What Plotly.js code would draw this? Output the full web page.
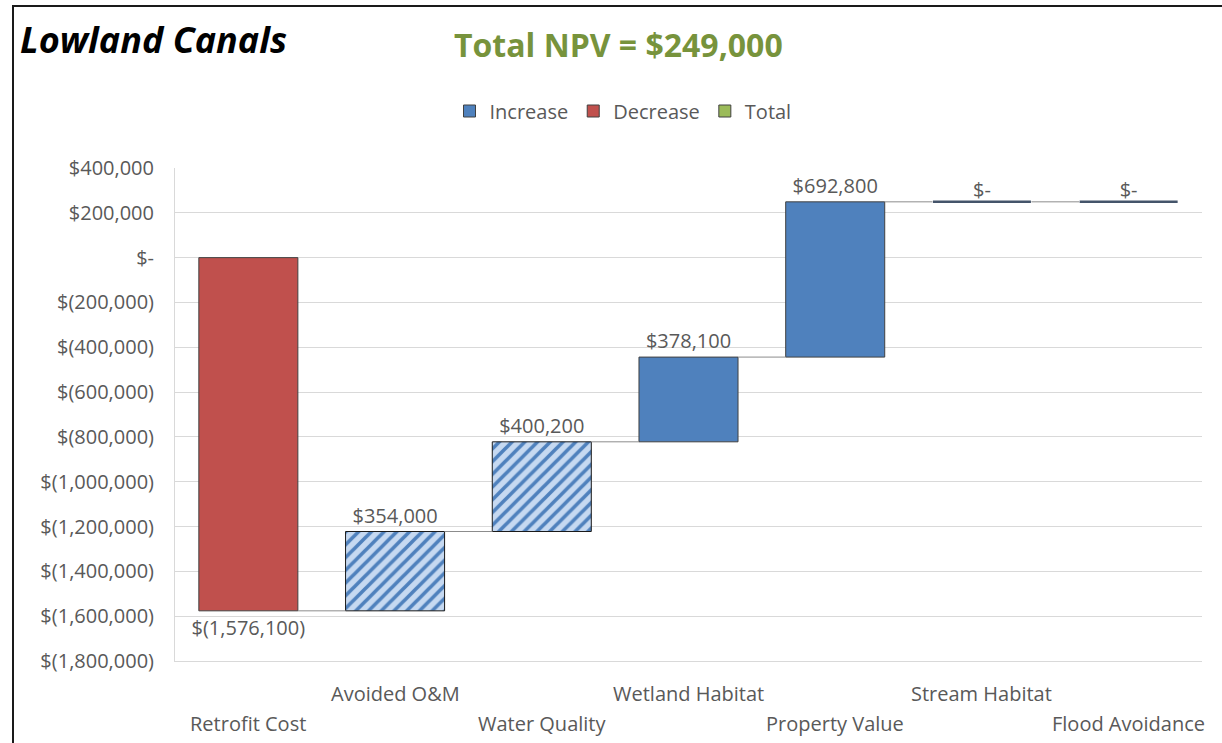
<!DOCTYPE html>
<html>
<head>
<meta charset="utf-8">
<script src="https://cdn.plot.ly/plotly-3.0.1.min.js"></script>
<style>
  html, body { margin: 0; padding: 0; background: #fff; overflow: hidden; }
  #chart { width: 1222px; height: 743px; }
  #frame { position: absolute; left: 12px; top: 5px; width: 1300px; height: 800px;
           border-left: 2px solid #1a1a1a; border-top: 2px solid #1a1a1a; pointer-events: none; }
</style>
</head>
<body>
<div id="chart"></div>
<div id="frame"></div>
<script>
// ---- data ----
const categories = ["Retrofit Cost", "Avoided O&M", "Water Quality", "Wetland Habitat",
                    "Property Value", "Stream Habitat", "Flood Avoidance"];
const values = [-1576100, 354000, 400200, 378100, 692800, 0, 0];
const hatchedCategories = ["Avoided O&M", "Water Quality"];
const totalNPV = 249000;
const yTickVals = [400000, 200000, 0, -200000, -400000, -600000, -800000,
                   -1000000, -1200000, -1400000, -1600000, -1800000];
const yTickLabels = ["$400,000", "$200,000", "$-", "$(200,000)", "$(400,000)", "$(600,000)",
                     "$(800,000)", "$(1,000,000)", "$(1,200,000)", "$(1,400,000)",
                     "$(1,600,000)", "$(1,800,000)"];

// ---- helpers ----
function fmt(v) {
  if (v === 0) return "$-";
  const s = Math.abs(v).toLocaleString("en-US");
  return v < 0 ? "$(" + s + ")" : "$" + s;
}
const starts = [], ends = [];
let run = 0;
values.forEach(v => { starts.push(run); run += v; ends.push(run); });

const idx = categories.map((c, i) => i);
const decIdx = idx.filter(i => values[i] < 0);
const hatchIdx = idx.filter(i => values[i] > 0 && hatchedCategories.includes(categories[i]));
const solidIdx = idx.filter(i => values[i] > 0 && !hatchedCategories.includes(categories[i]));
const zeroIdx = idx.filter(i => values[i] === 0);

const BW = 0.675;
const GREY = "#595959";
const FONT = "Open Sans, Noto Sans, sans-serif";

function barTrace(ids, name, marker, showlegend, rank) {
  return {
    type: "bar", name: name, showlegend: showlegend, legendrank: rank,
    x: ids, base: ids.map(i => starts[i]), y: ids.map(i => values[i]),
    width: BW, marker: marker,
    text: ids.map(i => fmt(values[i])), textposition: "outside",
    textfont: { size: 20, color: GREY, family: FONT },
    constraintext: "none", cliponaxis: false, hoverinfo: "skip"
  };
}

const traces = [];
// connectors
const cx = [], cy = [];
for (let i = 0; i < values.length - 1; i++) {
  cx.push(i + BW / 2, i + 1 - BW / 2, null);
  cy.push(ends[i], ends[i], null);
}
traces.push({ type: "scatter", mode: "lines", x: cx, y: cy, showlegend: false,
  line: { color: "#8c8c8c", width: 1 }, hoverinfo: "skip" });

traces.push(barTrace(solidIdx, "Increase",
  { color: "#4F81BD", line: { color: "#404040", width: 1 } }, true, 1));
traces.push(barTrace(decIdx, "Decrease",
  { color: "#C0504D", line: { color: "#404040", width: 1 } }, true, 2));
traces.push(barTrace(hatchIdx, "Increase (hatched)",
  { color: "#C6D9F1", line: { color: "#1a1a1a", width: 1 },
    pattern: { shape: "/", fgcolor: "#4F81BD", bgcolor: "#C6D9F1", size: 9, solidity: 0.4 } },
  false, 4));
traces.push({ type: "bar", name: "Total", x: [null], y: [null], legendrank: 3,
  marker: { color: "#9BBB59", line: { color: "#404040", width: 1 } }, hoverinfo: "skip" });
// zero-value bars drawn as flat lines
traces.push({ type: "scatter", mode: "markers", showlegend: false, hoverinfo: "skip",
  x: zeroIdx, y: zeroIdx.map(i => ends[i]),
  marker: { symbol: "line-ew", size: 70, line: { color: "#44546A", width: 2.5 } } });
traces.push({ type: "scatter", mode: "text", showlegend: false, hoverinfo: "skip",
  x: zeroIdx, y: zeroIdx.map(i => ends[i]), text: zeroIdx.map(i => fmt(values[i])),
  textposition: "top center", textfont: { size: 20, color: GREY, family: FONT } });

// x labels staggered in two rows
const annotations = categories.map((c, i) => ({
  text: c, x: i, xref: "x", y: 0, yref: "paper", yanchor: "middle",
  yshift: i % 2 === 0 ? -62 : -32, showarrow: false,
  font: { size: 20, color: GREY, family: FONT }
}));
annotations.push({
  text: "Total NPV = " + fmt(totalNPV), xref: "paper", yref: "paper",
  x: (618 - 175) / 1027, y: (661 - 44) / 493, xanchor: "center", yanchor: "middle",
  showarrow: false, font: { size: 32, color: "#77933C", family: FONT, weight: "bold" }
});

const layout = {
  width: 1222, height: 743,
  margin: { l: 175, r: 20, t: 168, b: 82 },
  paper_bgcolor: "#fff", plot_bgcolor: "#fff",
  font: { family: FONT, color: GREY, size: 20 },
  title: { text: "Lowland Canals", x: 20 / 1222, xanchor: "left", xref: "container",
           y: 1 - 40 / 743, yanchor: "middle", yref: "container",
           font: { size: 36, color: "#000", family: FONT, weight: "bold", style: "italic" } },
  showlegend: true,
  legend: { orientation: "h", x: (623 - 175) / 1027, xanchor: "center",
            y: 1 - 111 / 743, yref: "container", yanchor: "middle",
            font: { size: 20, color: GREY, family: FONT }, traceorder: "normal" },
  barmode: "overlay",
  xaxis: { range: [-0.5, 6.5], showticklabels: false, showgrid: false, zeroline: false,
           showline: true, linecolor: "#D9D9D9", linewidth: 1, fixedrange: true },
  yaxis: { range: [-1800000, 400000], tickvals: yTickVals, ticktext: yTickLabels,
           showgrid: true, gridcolor: "#D9D9D9", gridwidth: 1, zeroline: false,
           showline: true, linecolor: "#D9D9D9", linewidth: 1, ticks: "",
           ticklabelstandoff: 16, tickfont: { size: 20, color: GREY, family: FONT } },
  annotations: annotations
};

Plotly.newPlot("chart", traces, layout, { displayModeBar: false, staticPlot: true });
</script>
</body>
</html>
